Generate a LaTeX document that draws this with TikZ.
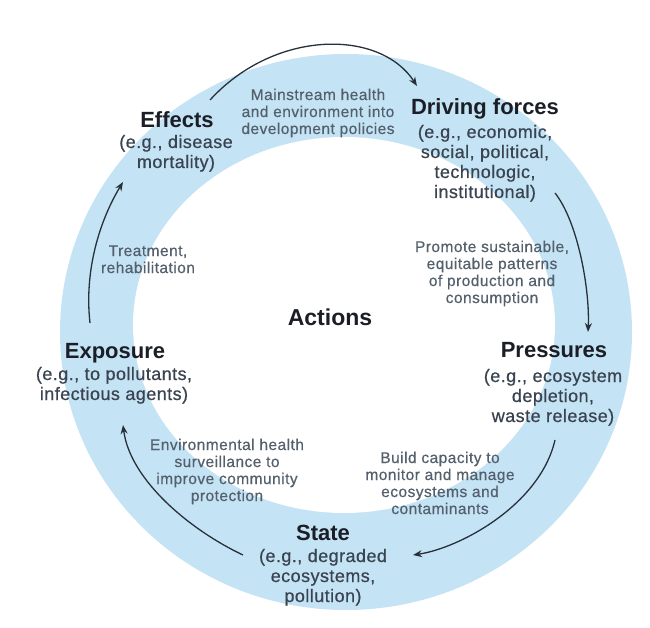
\documentclass[tikz,border=0pt]{standalone}
\usepackage{fontspec}
\setmainfont{Liberation Sans}
\newfontfamily\subfont{Liberation Sans}[FakeBold=0.6, LetterSpace=2.5]
\newfontfamily\actfont{Liberation Sans}[FakeBold=0.5, LetterSpace=3]
\usetikzlibrary{arrows.meta}

\definecolor{ringblue}{RGB}{196,227,245}
\definecolor{titlecol}{RGB}{27,30,38}
\definecolor{subcol}{RGB}{58,68,80}
\definecolor{actcol}{RGB}{84,96,108}
\definecolor{arrowcol}{RGB}{40,48,58}

\begin{document}
\begin{tikzpicture}[x=1pt, y=-1pt,
  title/.style={font=\bfseries\fontsize{22}{24}\selectfont, text=titlecol, inner sep=0pt, anchor=base},
  sub/.style={font=\subfont\fontsize{18}{20}\selectfont, text=subcol, align=center, inner sep=0pt, anchor=base},
  act/.style={font=\actfont\fontsize{15.5}{17}\selectfont, text=actcol, align=center, inner sep=0pt, anchor=base},
  flow/.style={-{Stealth[length=9pt, width=7pt]}, line width=1.3pt, draw=arrowcol}]
  \useasboundingbox (0,0) rectangle (650,628);

  % ring
  \fill[ringblue] (346,332) ellipse [x radius=286, y radius=278];
  \fill[white] (344,325) ellipse [x radius=211, y radius=188];

  % centre
  \node[title, font=\bfseries\fontsize{23}{25}\selectfont] (act) at (330,325) {Actions};

  % the five stages (sub nodes placed by their last baseline)
  \node[title] (eff) at (177,128) {Effects};
  \node[sub] (effsub) at (176,168) {(e.g., disease\\mortality)};
  \node[title] (drv) at (485,115) {Driving forces};
  \node[sub] (drvsub) at (485,198) {(e.g., economic,\\social, political,\\technologic,\\institutional)};
  \node[title] (prs) at (554,357) {Pressures};
  \node[sub] (prssub) at (553,422) {(e.g., ecosystem\\depletion,\\waste release)};
  \node[title] (sta) at (323,540) {State};
  \node[sub] (stasub) at (323,602) {(e.g., degraded\\ecosystems,\\pollution)};
  \node[title] (exp) at (115,358) {Exposure};
  \node[sub] (expsub) at (114,400) {(e.g., to pollutants,\\infectious agents)};

  % actions along the arrows
  \node[act] (main) at (318,134) {Mainstream health\\and environment into\\development policies};
  \node[act] (prom) at (492,303) {Promote sustainable,\\equitable patterns\\of production and\\consumption};
  \node[act] (build) at (440,514) {Build capacity to\\monitor and manage\\ecosystems and\\contaminants};
  \node[act] (envh) at (227,501) {Environmental health\\surveillance to\\improve community\\protection};
  \node[act] (treat) at (148,273) {Treatment,\\rehabilitation};

  % arrow ends
  \coordinate (e1) at (210,100);
  \coordinate (d1) at (417,86);
  \coordinate (d2) at (555,193);
  \coordinate (p1) at (588,332);
  \coordinate (p2) at (555,440);
  \coordinate (s1) at (413,555);
  \coordinate (s2) at (243,555);
  \coordinate (x1) at (123,425);
  \coordinate (x2) at (90,323);
  \coordinate (e2) at (123,182);

  \draw[flow] (e1) .. controls (275,29) and (380,29) .. (d1);
  \draw[flow] (d2) .. controls (578,222) and (590,290) .. (p1);
  \draw[flow] (p2) .. controls (540,505) and (460,548) .. (s1);
  \draw[flow] (s2) .. controls (190,530) and (130,480) .. (x1);
  \draw[flow] (x2) .. controls (84,270) and (100,220) .. (e2);
\end{tikzpicture}
\end{document}
